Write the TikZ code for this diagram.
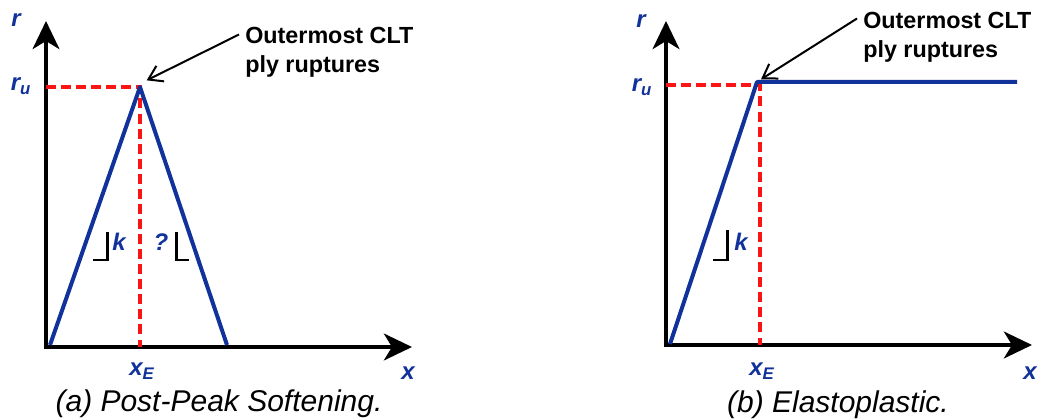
\documentclass[tikz,border=0pt]{standalone}
\usepackage{fontspec}
\setmainfont{Liberation Sans}
\usetikzlibrary{arrows.meta}

\definecolor{curveblue}{RGB}{18,50,155}
\definecolor{dashred}{RGB}{250,20,20}

\begin{document}
\begin{tikzpicture}[x=0.75pt,y=0.75pt,yscale=-1,xscale=1,
  axis/.style={line width=3.4pt,line join=miter,{Stealth[length=21pt,width=20pt,inset=6pt]}-{Stealth[length=21pt,width=20pt,inset=6pt]}},
  curve/.style={color=curveblue,line width=3pt,line join=round},
  guide/.style={color=dashred,line width=3pt,dash pattern=on 7.5pt off 3.8pt},
  slope/.style={line width=2.2pt},
  pointer/.style={line width=1.5pt,-{Straight Barb[length=10pt,width=13pt]}},
  lbl/.style={color=curveblue,font=\fontsize{18}{20}\selectfont\bfseries\itshape,inner sep=0pt},
  note/.style={font=\fontsize{17.5}{22}\selectfont\bfseries,align=left,inner sep=0pt,anchor=north west},
  capt/.style={font=\fontsize{22.5}{26}\selectfont\itshape,inner sep=0pt}]
\useasboundingbox (0,0) rectangle (1038,420);

%%% (a) post-peak softening
\coordinate (ytipA) at (46,21);
\coordinate (origA) at (46,347);
\coordinate (xtipA) at (412,347);
\coordinate (footA) at (50,345);
\coordinate (peakA) at (140,87);
\coordinate (endA) at (227,345);
\coordinate (ruA) at (46,87);
\coordinate (xeA) at (140,347);

%Shape: Axes
\draw [axis] (ytipA) -- (origA) -- (xtipA);
%Straight Lines: guides
\draw [guide] (ruA) -- (peakA) -- (xeA);
%Straight Lines: curve
\draw [curve] (footA) -- (peakA) -- (endA);
%Slope marks
\draw [slope] (93.3,260) -- (107.3,260) -- (107.3,231.7);
\draw [slope] (176.7,231.7) -- (176.7,260) -- (189.3,260);

% Text Node
\node [lbl] (rA) at (16,20) {r};
% Text Node
\node [lbl] (ruLblA) at (21,86) {r\textsubscript{u}};
% Text Node
\node [lbl] (kA) at (119,242) {k};
% Text Node
\node [lbl] (qA) at (161,242) {?};
% Text Node
\node [lbl] (xeLblA) at (142,371) {x\textsubscript{E}};
% Text Node
\node [lbl] (xA) at (408,373) {x};
% Text Node
\node [note] (noteA) at (245,26.5) {Outermost CLT\\ply ruptures};
\draw [pointer] (noteA.north west) ++(-6,8) coordinate (fromA) (fromA) -- ([xshift=5,yshift=-5]peakA);
% Text Node
\node [capt] (captA) at (219,404) {(a) Post-Peak Softening.};

%%% (b) elastoplastic
\coordinate (ytipB) at (666,21);
\coordinate (origB) at (666,345);
\coordinate (xtipB) at (1032,345);
\coordinate (footB) at (670,344);
\coordinate (peakB) at (757,82);
\coordinate (endB) at (1017,82);
\coordinate (ruB) at (666,85);
\coordinate (cornB) at (760,85);
\coordinate (xeB) at (760,345);

%Shape: Axes
\draw [axis] (ytipB) -- (origB) -- (xtipB);
%Straight Lines: guides
\draw [guide] (ruB) -- (cornB) -- (xeB);
%Straight Lines: curve
\draw [curve] (footB) -- (peakB) -- (endB);
%Slope mark
\draw [slope] (713.3,260) -- (727.3,260) -- (727.3,230);

% Text Node
\node [lbl] (rB) at (641,21) {r};
% Text Node
\node [lbl] (ruLblB) at (642,87) {r\textsubscript{u}};
% Text Node
\node [lbl] (kB) at (741,242) {k};
% Text Node
\node [lbl] (xeLblB) at (762,371) {x\textsubscript{E}};
% Text Node
\node [lbl] (xB) at (1030,373) {x};
% Text Node
\node [note] (noteB) at (863,11.5) {Outermost CLT\\ply ruptures};
\draw [pointer] (noteB.north west) ++(-6,7) coordinate (fromB) (fromB) -- ([xshift=3,yshift=-2]peakB);
% Text Node
\node [capt] (captB) at (838,405) {(b) Elastoplastic.};

\end{tikzpicture}
\end{document}
